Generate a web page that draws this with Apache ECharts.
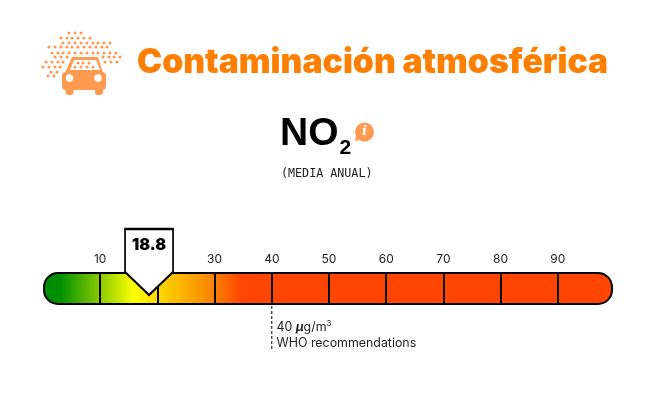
<!DOCTYPE html>
<html>
<head>
<meta charset="utf-8">
<style>
html, body { margin: 0; padding: 0; background: #fff; }
#chart { width: 649px; height: 396px; }
</style>
<script src="https://cdn.jsdelivr.net/npm/echarts@6/dist/echarts.min.js"></script>
</head>
<body>
<div id="chart"></div>
<script>
const titleText = 'Contaminación atmosférica';
const pollutant = 'NO';
const pollutantSub = '2';
const subtitleText = '(MEDIA ANUAL)';
const categories = ['NO2'];
const scaleEnd = [99.65];
const currentValue = 18.8;
const whoValue = 40;
const tickValues = [10, 20, 30, 40, 50, 60, 70, 80, 90];
const hiddenTicks = [20];

// smoke dots of the icon: [y, x, x, ...]
const dotRows = [
    [33, 69, 75, 81],
    [38, 61, 67, 72, 78, 84, 90],
    [43, 63, 69, 75, 81, 87, 93, 98, 104, 110],
    [47, 49, 55, 61, 67, 72, 78, 84, 90, 96, 102, 107],
    [53, 52, 58, 63, 69, 75, 81, 87, 93, 98, 104, 110, 116],
    [57, 55, 61, 67, 103, 109, 114, 120],
    [62, 46, 52, 58, 63, 105, 111, 117],
    [67, 43, 49, 55, 60],
    [72, 51, 57],
    [76, 48, 54]
];
const windowDots = [
    [63, 78, 83, 89],
    [67, 75, 81, 87, 93]
];

const iconColor = '#ff9a52';

const smoke = [];
dotRows.concat(windowDots).forEach((row, idx) => {
    row.slice(1).forEach(x => {
        smoke.push({
            type: 'circle',
            z: idx >= dotRows.length ? 13 : 10,
            shape: { cx: x, cy: row[0], r: 1.6 },
            style: { fill: iconColor }
        });
    });
});

const chart = echarts.init(document.getElementById('chart'));

chart.setOption({
    animation: false,
    backgroundColor: '#fff',
    title: [
        {
            text: titleText,
            left: 132,
            top: 41,
            textStyle: { color: '#ff7f00', fontFamily: 'Inter', fontWeight: 900, fontSize: 33.7 }
        },
        {
            text: '{m|' + pollutant + '}{s|' + pollutantSub + '}',
            left: 275,
            top: 104,
            textStyle: {
                rich: {
                    m: { fontFamily: 'Liberation Sans', fontWeight: 'bold', fontSize: 39, color: '#000' },
                    s: { fontFamily: 'Liberation Sans', fontWeight: 'bold', fontSize: 21, color: '#000', padding: [29, 0, 0, 1] }
                }
            }
        },
        {
            text: subtitleText,
            left: 276,
            top: 163,
            textStyle: { color: '#222', fontFamily: 'DejaVu Sans Mono', fontWeight: 'normal', fontSize: 11.7 }
        }
    ],
    grid: [
        { left: 43, width: 570, top: 272, height: 33 },
        { left: 43, width: 570, top: 306, height: 45 }
    ],
    xAxis: [
        {
            gridIndex: 0,
            type: 'value',
            position: 'top',
            min: 0,
            max: scaleEnd[0],
            interval: 10,
            axisLine: { show: false },
            axisTick: { show: false },
            splitLine: { show: false },
            axisLabel: {
                margin: 7,
                color: '#222',
                fontFamily: 'Inter',
                fontSize: 12,
                showMaxLabel: false,
                showMinLabel: false,
                formatter: v => (hiddenTicks.includes(v) ? '' : v)
            }
        },
        {
            gridIndex: 1,
            type: 'value',
            min: 0,
            max: scaleEnd[0],
            show: false
        }
    ],
    yAxis: [
        { gridIndex: 0, type: 'category', data: categories, show: false },
        { gridIndex: 1, type: 'value', min: 0, max: 1, inverse: true, show: false }
    ],
    series: [
        {
            type: 'bar',
            xAxisIndex: 0,
            yAxisIndex: 0,
            data: scaleEnd,
            barWidth: 33,
            itemStyle: {
                borderColor: '#000',
                borderWidth: 2,
                borderRadius: 14,
                color: new echarts.graphic.LinearGradient(0, 0, 1, 0, [
                    { offset: 0, color: '#008a00' },
                    { offset: 0.03, color: '#009000' },
                    { offset: 0.16, color: '#ffff00' },
                    { offset: 0.29, color: '#f98a00' },
                    { offset: 0.35, color: '#ff4500' },
                    { offset: 1, color: '#ff4500' }
                ])
            },
            markLine: {
                silent: true,
                symbol: 'none',
                label: { show: false },
                lineStyle: { color: '#000', type: 'solid', width: 2 },
                data: tickValues.map(v => ({ xAxis: v }))
            },
            markPoint: {
                silent: true,
                z: 20,
                symbol: 'path://M0 0L48 0L48 43L24 66L0 43Z',
                symbolSize: [48, 66],
                symbolKeepAspect: false,
                symbolOffset: [-1.5, -26.5],
                itemStyle: { color: '#fff', borderColor: '#000', borderWidth: 2 },
                label: {
                    show: true,
                    position: 'inside',
                    offset: [0, -17],
                    formatter: '{c}',
                    color: '#000',
                    fontFamily: 'Inter',
                    fontWeight: 900,
                    fontSize: 16
                },
                data: [{ coord: [currentValue, categories[0]], value: currentValue }]
            }
        },
        {
            type: 'line',
            xAxisIndex: 1,
            yAxisIndex: 1,
            symbol: 'none',
            lineStyle: { color: '#000', type: [3, 2], width: 1 },
            data: [[whoValue, 0], [whoValue, 1]]
        }
    ],
    graphic: smoke.concat([
        // car
        { type: 'polygon', z: 11, shape: { points: [[72, 57], [98, 57], [103, 73], [65, 73]] }, style: { fill: iconColor } },
        { type: 'polygon', z: 12, shape: { points: [[74, 60], [96, 60], [100, 70], [70, 70]] }, style: { fill: '#fff' } },
        { type: 'rect', z: 11, shape: { x: 62, y: 72, width: 44, height: 18, r: 4 }, style: { fill: iconColor } },
        { type: 'rect', z: 11, shape: { x: 65.5, y: 84, width: 8, height: 11, r: 3 }, style: { fill: iconColor } },
        { type: 'rect', z: 11, shape: { x: 95, y: 84, width: 8, height: 11, r: 3 }, style: { fill: iconColor } },
        { type: 'circle', z: 12, shape: { cx: 69.5, cy: 78, r: 3.7 }, style: { fill: '#fff' } },
        { type: 'circle', z: 12, shape: { cx: 98, cy: 78, r: 3.7 }, style: { fill: '#fff' } },
        // info bubble
        { type: 'circle', z: 10, shape: { cx: 364.5, cy: 132, r: 9.5 }, style: { fill: iconColor } },
        { type: 'polygon', z: 10, shape: { points: [[356, 135], [360, 140], [355, 141]] }, style: { fill: iconColor } },
        {
            type: 'text',
            z: 11,
            style: {
                x: 364.5, y: 132, text: 'i', fill: '#fff',
                font: 'italic bold 13px "DejaVu Serif"',
                textAlign: 'center', textVerticalAlign: 'middle'
            }
        },
        // WHO note
        {
            type: 'text',
            style: {
                x: 276.5, y: 319,
                text: '{a|40 }{b|µ}{a|g/m}{c|3}\n{a|WHO recommendations}',
                rich: {
                    a: { fontFamily: 'Inter', fontSize: 12.4, fill: '#222', lineHeight: 16 },
                    b: { fontFamily: 'Inter', fontSize: 12.4, fontWeight: 'bold', fontStyle: 'italic', fill: '#222', lineHeight: 16 },
                    c: { fontFamily: 'Inter', fontSize: 8, fill: '#222', padding: [0, 0, 6, 0] }
                }
            }
        }
    ])
});
</script>
</body>
</html>
